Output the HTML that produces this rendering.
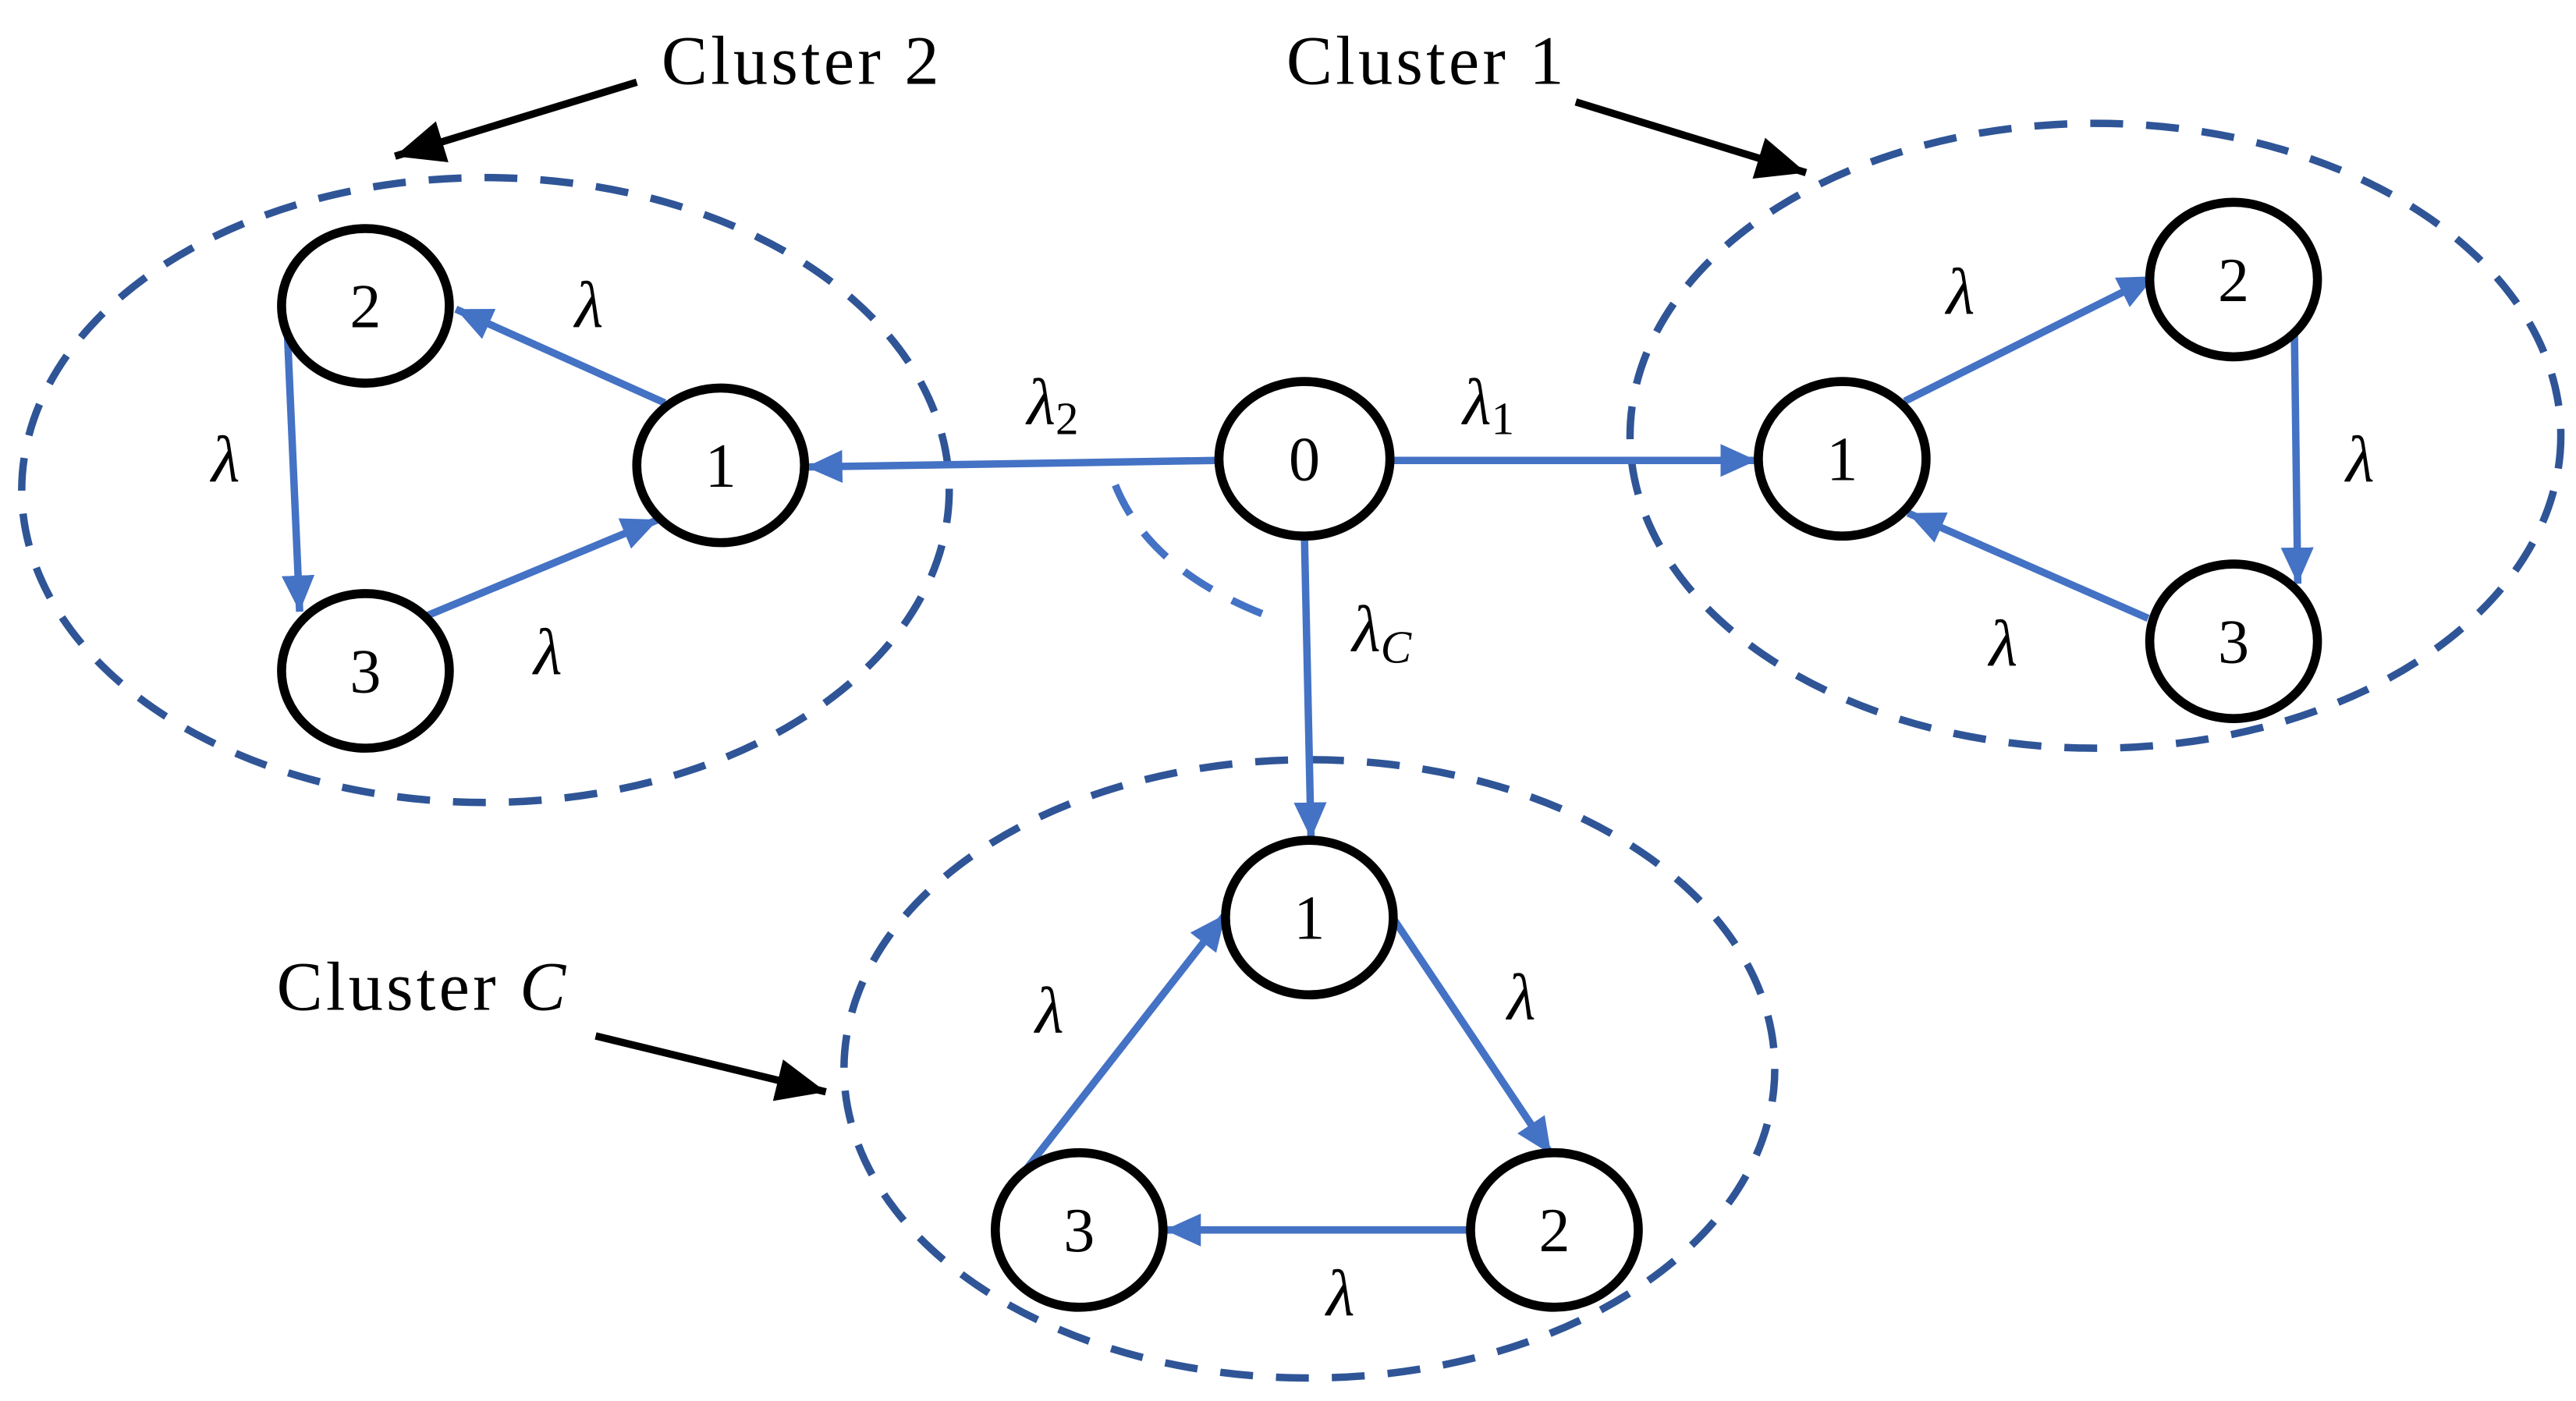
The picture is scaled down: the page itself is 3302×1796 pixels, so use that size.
<!DOCTYPE html>
<html><head><meta charset="utf-8"><style>
html,body{margin:0;padding:0;background:#fff;}
svg{display:block;}
text{font-family:"Liberation Serif",serif;fill:#000;}
</style></head><body>
<svg width="3302" height="1796" viewBox="0 0 1566 852" xmlns="http://www.w3.org/2000/svg">
<defs>
<marker id="b" markerUnits="userSpaceOnUse" markerWidth="26" markerHeight="22" refX="22" refY="10" orient="auto"><path d="M0,0 L22,10 L0,20 z" fill="#4472C4"/></marker>
<marker id="k" markerUnits="userSpaceOnUse" markerWidth="34" markerHeight="28" refX="30" refY="13" orient="auto"><path d="M0,0 L30,13 L0,26 z" fill="#000"/></marker>
</defs>
<g fill="none" stroke="#2F5597" stroke-width="4.5" stroke-dasharray="20 14">
<ellipse cx="295" cy="298" rx="282" ry="190"/>
<ellipse cx="1274" cy="265" rx="283" ry="190"/>
<ellipse cx="796" cy="650" rx="283" ry="188"/>
<path d="M678,295 Q700,350 780,378" stroke="#4472C4"/>
</g>
<g stroke="#4472C4" stroke-width="4.5" fill="none" marker-end="url(#b)">
<line x1="740" y1="280" x2="490" y2="284"/>
<line x1="846" y1="280" x2="1068" y2="280"/>
<line x1="793" y1="326" x2="797" y2="510"/>
<line x1="404" y1="245" x2="277" y2="188"/>
<line x1="174" y1="190" x2="182" y2="372"/>
<line x1="258" y1="375" x2="400" y2="316"/>
<line x1="1158" y1="244" x2="1310" y2="168"/>
<line x1="1395" y1="203" x2="1397" y2="355"/>
<line x1="1306" y1="376" x2="1160" y2="312"/>
<line x1="620" y1="716" x2="745" y2="556"/>
<line x1="848" y1="560" x2="943" y2="702"/>
<line x1="892" y1="748" x2="708" y2="748"/>
</g>
<g stroke="#000" stroke-width="4.5" marker-end="url(#k)">
<line x1="387" y1="50" x2="240" y2="95"/>
<line x1="958" y1="62" x2="1098" y2="105"/>
<line x1="362" y1="630" x2="502" y2="664"/>
</g>
<g fill="#fff" stroke="#000" stroke-width="5.5">
<ellipse cx="222" cy="186" rx="51" ry="47"/>
<ellipse cx="438" cy="283" rx="51" ry="47"/>
<ellipse cx="222" cy="408" rx="51" ry="47"/>
<ellipse cx="793" cy="279" rx="52" ry="47"/>
<ellipse cx="1120" cy="279" rx="51" ry="47"/>
<ellipse cx="1358" cy="170" rx="51" ry="47"/>
<ellipse cx="1358" cy="390" rx="51" ry="47"/>
<ellipse cx="796" cy="558" rx="51" ry="47"/>
<ellipse cx="656" cy="748" rx="51" ry="47"/>
<ellipse cx="945" cy="748" rx="51" ry="47"/>
</g>
<g font-size="38" text-anchor="middle">
<text x="222" y="199">2</text><text x="438" y="296">1</text><text x="222" y="421">3</text>
<text x="793" y="292">0</text>
<text x="1120" y="292">1</text><text x="1358" y="183">2</text><text x="1358" y="403">3</text>
<text x="796" y="571">1</text><text x="656" y="761">3</text><text x="945" y="761">2</text>
</g>
<g font-size="40" font-style="italic" text-anchor="middle">
<text x="358" y="199">λ</text><text x="137" y="293">λ</text><text x="333" y="410">λ</text>
<text x="1192" y="191">λ</text><text x="1435" y="293">λ</text><text x="1218" y="405">λ</text>
<text x="638" y="628">λ</text><text x="925" y="620">λ</text><text x="815" y="800">λ</text>
<text x="640" y="258">λ<tspan font-size="28" font-style="normal" dy="6">2</tspan></text>
<text x="905" y="258">λ<tspan font-size="28" font-style="normal" dy="6">1</tspan></text>
<text x="840" y="396">λ<tspan font-size="28" dy="7">C</tspan></text>
</g>
<g font-size="42" letter-spacing="2">
<text x="402" y="51">Cluster 2</text>
<text x="782" y="51">Cluster 1</text>
<text x="168" y="614">Cluster <tspan font-style="italic">C</tspan></text>
</g>
</svg>
</body></html>
